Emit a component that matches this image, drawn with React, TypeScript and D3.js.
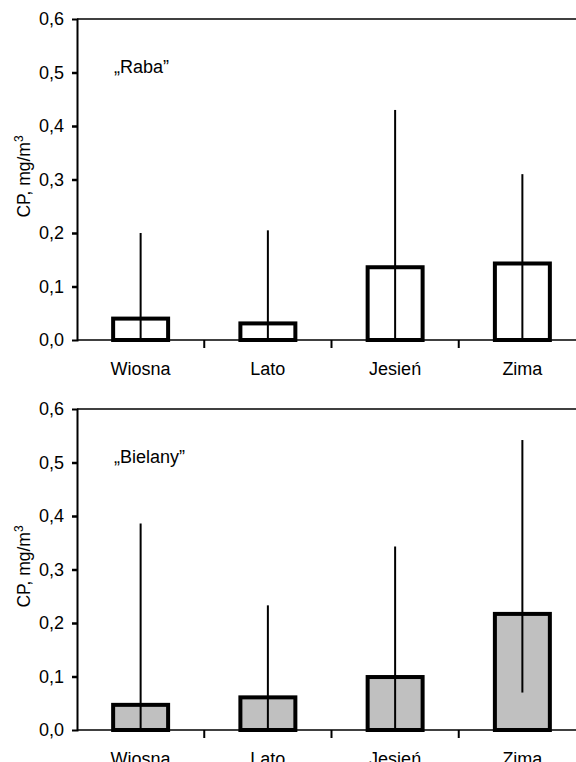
import React, { useRef, useEffect } from 'react'
import * as d3 from 'd3'

// seasons on the x axis
const seasons = ['Wiosna', 'Lato', 'Jesień', 'Zima']
const yTicks = [0, 0.1, 0.2, 0.3, 0.4, 0.5, 0.6]

// "Raba" station: mean and whisker range
const rabaMean = [0.04, 0.031, 0.136, 0.143]
const rabaLow = [0, 0, 0, 0]
const rabaHigh = [0.2, 0.205, 0.43, 0.31]

// "Bielany" station
const bielanyMean = [0.047, 0.061, 0.099, 0.217]
const bielanyLow = [0, 0, 0, 0.07]
const bielanyHigh = [0.386, 0.233, 0.343, 0.542]

const width = 576
const height = 762
const font = '"Liberation Sans", Arial, sans-serif'

const plLocale = d3.formatLocale({ decimal: ',', thousands: ' ', grouping: [3], currency: ['', ''] })

export default function App() {
    const svgRef = useRef<SVGSVGElement>(null)

    useEffect(() => {
        const svg = d3.select(svgRef.current)
        svg.selectAll('*').remove()

        // left edge, band range runs a bit past the page edge like the original
        const marginLeft = 77
        const plotRight = 586

        const panels = [
            { top: 19, bottom: 340, name: '„Raba”', mean: rabaMean, low: rabaLow, high: rabaHigh, fill: '#ffffff' },
            { top: 409, bottom: 730, name: '„Bielany”', mean: bielanyMean, low: bielanyLow, high: bielanyHigh, fill: '#c0c0c0' },
        ]

        const x = d3.scaleBand<string>()
            .domain(seasons)
            .range([marginLeft, plotRight])
            .paddingInner(0.568)
            .paddingOuter(0.284)

        const step = x.step()

        panels.forEach(p => {
            const y = d3.scaleLinear().domain([0, 0.6]).range([p.bottom, p.top])
            const g = svg.append('g')

            // top frame line and x axis line
            g.append('line')
                .attr('x1', marginLeft).attr('x2', width)
                .attr('y1', y(0.6)).attr('y2', y(0.6))
                .attr('stroke', '#000').attr('stroke-width', 1.5)
            g.append('line')
                .attr('x1', marginLeft).attr('x2', width)
                .attr('y1', y(0)).attr('y2', y(0))
                .attr('stroke', '#000').attr('stroke-width', 1.5)

            // x ticks between categories
            g.selectAll('line.xtick')
                .data(d3.range(1, seasons.length))
                .join('line')
                .attr('class', 'xtick')
                .attr('x1', i => marginLeft + i * step)
                .attr('x2', i => marginLeft + i * step)
                .attr('y1', y(0)).attr('y2', y(0) + 8)
                .attr('stroke', '#000').attr('stroke-width', 2)

            // x labels
            g.selectAll('text.xlab')
                .data(seasons)
                .join('text')
                .attr('class', 'xlab')
                .attr('x', d => x(d)! + x.bandwidth() / 2)
                .attr('y', y(0) + 35)
                .attr('text-anchor', 'middle')
                .attr('font-family', font)
                .attr('font-size', 18)
                .text(d => d)

            // bars
            g.selectAll('rect.bar')
                .data(seasons)
                .join('rect')
                .attr('class', 'bar')
                .attr('x', d => x(d)!)
                .attr('width', x.bandwidth())
                .attr('y', (d, i) => y(p.mean[i]))
                .attr('height', (d, i) => y(0) - y(p.mean[i]))
                .attr('fill', p.fill)
                .attr('stroke', '#000')
                .attr('stroke-width', 4)

            // whiskers
            g.selectAll('line.err')
                .data(seasons)
                .join('line')
                .attr('class', 'err')
                .attr('x1', d => x(d)! + x.bandwidth() / 2)
                .attr('x2', d => x(d)! + x.bandwidth() / 2)
                .attr('y1', (d, i) => y(p.low[i]))
                .attr('y2', (d, i) => y(p.high[i]))
                .attr('stroke', '#000')
                .attr('stroke-width', 2)

            // y axis
            const yAxis = g.append('g')
                .attr('transform', `translate(${marginLeft},0)`)
                .call(d3.axisLeft(y)
                    .tickValues(yTicks)
                    .tickSize(5)
                    .tickPadding(8)
                    .tickFormat(plLocale.format('.1f')))
            yAxis.select('.domain').attr('stroke-width', 2)
            yAxis.selectAll('.tick line').attr('stroke-width', 2.5)
                .attr('opacity', (d: any) => (d === 0 || d === 0.6) ? 0 : 1)
            yAxis.selectAll('.tick text')
                .attr('font-family', font)
                .attr('font-size', 18)
                .attr('fill', '#000')

            // y label
            const label = g.append('text')
                .attr('transform', `translate(30,${(p.top + p.bottom) / 2 - 3}) rotate(-90)`)
                .attr('text-anchor', 'middle')
                .attr('font-family', font)
                .attr('font-size', 17.5)
            label.append('tspan').text('CP, mg/m')
            label.append('tspan').attr('dy', -7).attr('font-size', 12).text('3')

            // station name
            g.append('text')
                .attr('x', 114)
                .attr('y', p.top + 54)
                .attr('font-family', font)
                .attr('font-size', 18)
                .text(p.name)
        })
    }, [])

    return (
        <svg ref={svgRef} width={width} height={height}
            style={{ position: 'absolute', left: 0, top: 0, background: '#fff' }} />
    )
}
